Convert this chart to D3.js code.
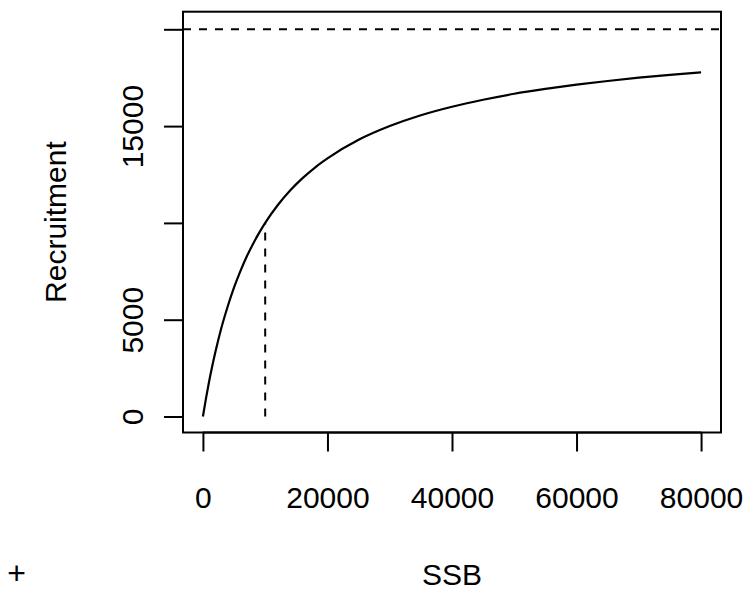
<!DOCTYPE html>
<html>
<head>
<meta charset="utf-8">
<script src="https://cdn.jsdelivr.net/npm/d3@7"></script>
<style>
  body { margin: 0; background: #fff; }
  text { font-family: "Liberation Sans", Arial, sans-serif; font-size: 30px; fill: #000; }
</style>
</head>
<body>
<div id="chart"></div>
<script>
// values
var ssb = [0, 500, 1000, 1500, 2000, 3000, 4000, 5000, 6000, 7000, 8000, 9000, 10000,
           12000, 14000, 16000, 18000, 20000, 25000, 30000, 35000, 40000, 45000, 50000,
           55000, 60000, 65000, 70000, 75000, 80000];
var recruitment = [0, 950, 1820, 2610, 3330, 4620, 5710, 6670, 7500, 8240, 8890, 9470, 10000,
                   10910, 11670, 12310, 12860, 13330, 14290, 15000, 15560, 16000, 16360, 16670,
                   16920, 17140, 17330, 17500, 17650, 17780];
var xTicks = [0, 20000, 40000, 60000, 80000];
var yTicks = [0, 5000, 10000, 15000, 20000];
var yTickLabels = ["0", "5000", "", "15000", ""];
var asymptote = 20000;
var halfSat = 10000;
var halfRec = 10000;

var width = 749, height = 591;
var margin = {top: 11.7, right: 28, bottom: 158.5, left: 183};

var svg = d3.select("#chart").append("svg")
    .attr("width", width)
    .attr("height", height);

var x = d3.scaleLinear()
    .domain([0 - 0.04 * 80000, 80000 * 1.04])
    .range([margin.left, width - margin.right]);
var y = d3.scaleLinear()
    .domain([-826, 20909])
    .range([height - margin.bottom, margin.top]);

// box
svg.append("rect")
    .attr("x", margin.left)
    .attr("y", margin.top)
    .attr("width", width - margin.left - margin.right)
    .attr("height", height - margin.top - margin.bottom)
    .attr("fill", "none")
    .attr("stroke", "#000")
    .attr("stroke-width", 2);

// x axis
var xAxis = svg.append("g")
    .attr("transform", "translate(0," + (height - margin.bottom) + ")")
    .call(d3.axisBottom(x).tickValues(xTicks).tickSize(19).tickPadding(0).tickFormat(d3.format("d")));
xAxis.select(".domain")
    .attr("d", "M" + x(xTicks[0]) + ",0H" + x(xTicks[xTicks.length - 1]))
    .attr("stroke-width", 2);
xAxis.selectAll(".tick line").attr("stroke-width", 2);
xAxis.selectAll(".tick text")
    .attr("y", 0)
    .attr("dy", 0)
    .attr("transform", "translate(0,75)")
    .style("font-size", "30px")
    .style("font-family", "'Liberation Sans', Arial, sans-serif");

// y axis
var yAxis = svg.append("g")
    .attr("transform", "translate(" + margin.left + ",0)")
    .call(d3.axisLeft(y).tickValues(yTicks).tickSize(19)
      .tickFormat(function(d, i) { return yTickLabels[i]; }));
yAxis.select(".domain")
    .attr("d", "M0," + y(yTicks[0]) + "V" + y(yTicks[yTicks.length - 1]))
    .attr("stroke-width", 2);
yAxis.selectAll(".tick line").attr("stroke-width", 2);
yAxis.selectAll(".tick text")
    .attr("x", 0)
    .attr("dy", 0)
    .attr("text-anchor", "middle")
    .attr("transform", "translate(-40,0) rotate(-90)")
    .style("font-size", "30px")
    .style("font-family", "'Liberation Sans', Arial, sans-serif");

// asymptote
svg.append("line")
    .attr("x1", margin.left)
    .attr("x2", width - margin.right)
    .attr("y1", y(asymptote))
    .attr("y2", y(asymptote))
    .attr("stroke", "#000")
    .attr("stroke-width", 2)
    .attr("stroke-dasharray", "8,8");

// half saturation
svg.append("line")
    .attr("x1", x(halfSat))
    .attr("x2", x(halfSat))
    .attr("y1", y(0))
    .attr("y2", y(halfRec))
    .attr("stroke", "#000")
    .attr("stroke-width", 2)
    .attr("stroke-dasharray", "8,8");

// curve
var line = d3.line()
    .curve(d3.curveMonotoneX)
    .x(function(d, i) { return x(ssb[i]); })
    .y(function(d) { return y(d); });

svg.append("path")
    .datum(recruitment)
    .attr("d", line)
    .attr("fill", "none")
    .attr("stroke", "#000")
    .attr("stroke-width", 2.2);

// labels
svg.append("text")
    .attr("x", (margin.left + width - margin.right) / 2)
    .attr("y", 585)
    .attr("text-anchor", "middle")
    .text("SSB");

svg.append("text")
    .attr("transform", "translate(66," + ((margin.top + height - margin.bottom) / 2) + ") rotate(-90)")
    .attr("text-anchor", "middle")
    .text("Recruitment");

svg.append("text")
    .attr("x", 16.5)
    .attr("y", 584)
    .attr("text-anchor", "middle")
    .style("font-size", "32px")
    .text("+");
</script>
</body>
</html>
